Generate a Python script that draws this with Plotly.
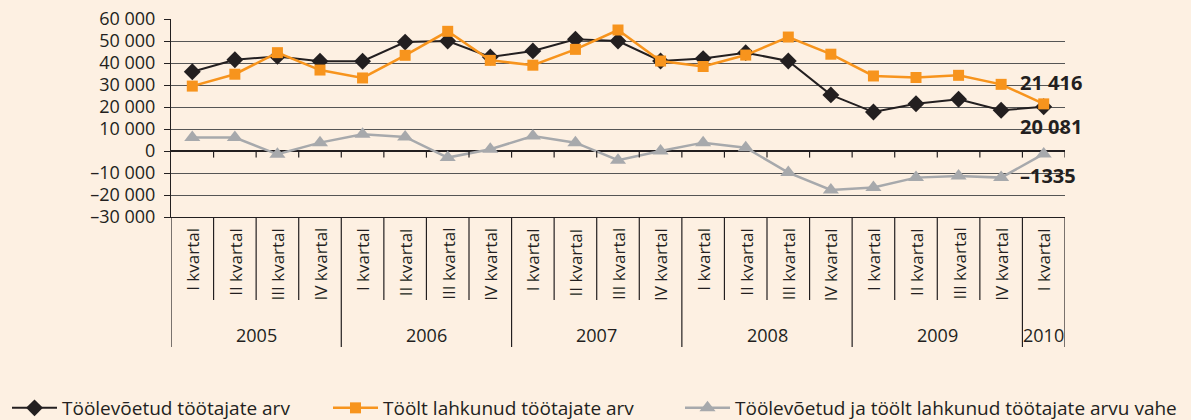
import plotly.graph_objects as go

years = ["2005", "2006", "2007", "2008", "2009", "2010"]
quarters = ["I kvartal", "II kvartal", "III kvartal", "IV kvartal"] * 5 + ["I kvartal"]
year_of_quarter = ["2005"] * 4 + ["2006"] * 4 + ["2007"] * 4 + ["2008"] * 4 + ["2009"] * 4 + ["2010"]

hired = [36000, 41500, 43000, 40800, 40800, 49500, 50000, 42700, 45500, 50800, 50000,
         40900, 42000, 44700, 40900, 25500, 17700, 21500, 23500, 18500, 20081]
left = [29500, 34900, 44700, 36800, 33200, 43500, 54400, 41200, 39000, 46200, 55000,
        40900, 38400, 43600, 51800, 44000, 34100, 33400, 34400, 30300, 21416]
diff = [6100, 6100, -1500, 3800, 7600, 6400, -3000, 800, 6800, 3800, -4200,
        0, 3800, 1500, -9800, -17700, -16600, -12100, -11400, -12100, -1335]

series_names = ["Töölevõetud töötajate arv", "Töölt lahkunud töötajate arv",
                "Töölevõetud ja töölt lahkunud töötajate arvu vahe"]
end_labels = ["20 081", "21 416", "–1335"]

y_ticks = [60000, 50000, 40000, 30000, 20000, 10000, 0, -10000, -20000, -30000]
y_ticktext = ["60 000", "50 000", "40 000", "30 000", "20 000", "10 000", "0",
              "–10 000", "–20 000", "–30 000"]

BG = "#FDF0E2"
BLACK = "#231F20"
ORANGE = "#F7941D"
GRAY = "#A7A9AC"
FONT = "Open Sans"

W, H = 1191, 420
L, R, T, B = 171, 126, 19, 203
plot_h = H - T - B
plot_w = W - L - R


def py(px):
    """pixel row -> paper y"""
    return (H - B - px) / plot_h


def pxx(px):
    return (px - L) / plot_w


x = list(range(len(quarters)))

fig = go.Figure()
fig.add_trace(go.Scatter(x=x, y=hired, mode="lines+markers", name=series_names[0],
                         line=dict(color=BLACK, width=2),
                         marker=dict(symbol="diamond", size=13, color=BLACK),
                         legend="legend"))
fig.add_trace(go.Scatter(x=x, y=left, mode="lines+markers", name=series_names[1],
                         line=dict(color=ORANGE, width=2.5),
                         marker=dict(symbol="square", size=11, color=ORANGE),
                         legend="legend2"))
fig.add_trace(go.Scatter(x=x, y=diff, mode="lines+markers", name=series_names[2],
                         line=dict(color=GRAY, width=2.5),
                         marker=dict(symbol="triangle-up", size=14, color=GRAY),
                         legend="legend3"))

shapes = []
# ticks on the zero line
for k in range(1, len(quarters) + 1):
    shapes.append(dict(type="line", xref="x", yref="y", x0=k - 0.5, x1=k - 0.5,
                       y0=0, y1=-3000, line=dict(color=BLACK, width=1.2)))
# category table separators
year_bounds = [-0.5]
count = 0
for yv in years:
    count += year_of_quarter.count(yv)
    year_bounds.append(count - 0.5)
for k in range(0, len(quarters) + 1):
    xb = k - 0.5
    bottom = py(347) if xb in year_bounds else py(300)
    shapes.append(dict(type="line", xref="x", yref="paper", x0=xb, x1=xb,
                       y0=0, y1=bottom, line=dict(color=BLACK, width=1.2)))

annotations = []
for i, q in enumerate(quarters):
    annotations.append(dict(x=i, y=py(226), xref="x", yref="paper", text=q,
                            textangle=-90, showarrow=False, xanchor="center",
                            yanchor="top", font=dict(family=FONT, size=17, color=BLACK)))
for j, yv in enumerate(years):
    lo = year_bounds[j] + 0.5
    hi = year_bounds[j + 1] - 0.5
    annotations.append(dict(x=(lo + hi) / 2, y=py(335), xref="x", yref="paper", text=yv,
                            showarrow=False, xanchor="center", yanchor="middle",
                            font=dict(family=FONT, size=18, color=BLACK)))
# end value labels
label_rows = [126, 82, 175]
for txt, row in zip(end_labels, label_rows):
    annotations.append(dict(x=pxx(1018), y=py(row), xref="paper", yref="paper",
                            text="<b>" + txt + "</b>", showarrow=False,
                            xanchor="left", yanchor="middle",
                            font=dict(family=FONT, size=20, color=BLACK)))

legend_common = dict(orientation="h", yanchor="middle", xanchor="left", visible=True,
                     bgcolor="rgba(0,0,0,0)", font=dict(family=FONT, size=19, color=BLACK),
                     itemwidth=45)

fig.update_layout(
    width=W, height=H,
    showlegend=True,
    margin=dict(l=L, r=R, t=T, b=B, autoexpand=False),
    paper_bgcolor=BG, plot_bgcolor=BG,
    font=dict(family=FONT, color=BLACK),
    xaxis=dict(range=[-0.5, len(quarters) - 0.5], showticklabels=False, showgrid=False,
               zeroline=False, showline=True, linecolor=BLACK, linewidth=1.2, ticks=""),
    yaxis=dict(range=[-30000, 60000], tickvals=y_ticks, ticktext=y_ticktext,
               showgrid=True, gridcolor="#555555", gridwidth=1,
               zeroline=True, zerolinecolor=BLACK, zerolinewidth=1.5,
               showline=True, linecolor=BLACK, linewidth=1.2,
               ticks="outside", ticklen=6, tickcolor=BLACK, ticklabelstandoff=5,
               tickfont=dict(family=FONT, size=18, color=BLACK)),
    shapes=shapes,
    annotations=annotations,
    legend=dict(x=pxx(7), y=py(408), **legend_common),
    legend2=dict(x=pxx(328), y=py(408), **legend_common),
    legend3=dict(x=pxx(680), y=py(408), **legend_common),
)

fig.write_html("out.html", config={"displayModeBar": False},
               post_script="document.body.style.margin='0';document.body.style.background='" + BG + "';")
